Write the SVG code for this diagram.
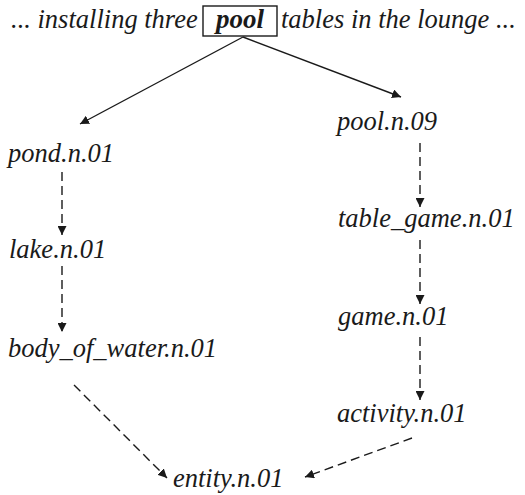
<svg xmlns="http://www.w3.org/2000/svg" width="525" height="495" viewBox="0 0 525 495">
<defs>
<marker id="ah" viewBox="0 0 10 10" refX="10" refY="5" markerWidth="9" markerHeight="9" markerUnits="userSpaceOnUse" orient="auto">
<path d="M0,0 L10,5 L0,10 Z" fill="#1a1a1a"/>
</marker>
</defs>
<g id="sentence">
<text x="11" y="28" style="font-family:'Liberation Serif',serif !important;font-style:italic !important;font-size:26.5px" fill="#1a1a1a">... installing three</text>
<rect x="203" y="6" width="74" height="30" fill="none" stroke="#1a1a1a" stroke-width="1.4"/>
<text x="240" y="28" text-anchor="middle" style="font-family:'Liberation Serif',serif !important;font-style:italic !important;font-weight:bold;font-size:27px" fill="#1a1a1a">pool</text>
<text x="281" y="28" style="font-family:'Liberation Serif',serif !important;font-style:italic !important;font-size:26.5px" fill="#1a1a1a">tables in the lounge ...</text>
</g>
<g id="pond"><text x="8" y="162" style="font-family:'Liberation Serif',serif !important;font-style:italic !important;font-size:26.5px" fill="#1a1a1a">pond.n.01</text></g>
<g id="lake"><text x="9" y="258" style="font-family:'Liberation Serif',serif !important;font-style:italic !important;font-size:26.5px" fill="#1a1a1a">lake.n.01</text></g>
<g id="body_of_water"><text x="8" y="357" style="font-family:'Liberation Serif',serif !important;font-style:italic !important;font-size:26.5px" fill="#1a1a1a">body_of_water.n.01</text></g>
<g id="pool_n_09"><text x="337" y="130" style="font-family:'Liberation Serif',serif !important;font-style:italic !important;font-size:26.5px" fill="#1a1a1a">pool.n.09</text></g>
<g id="table_game"><text x="338" y="227" style="font-family:'Liberation Serif',serif !important;font-style:italic !important;font-size:26.5px" fill="#1a1a1a">table_game.n.01</text></g>
<g id="game"><text x="338" y="325" style="font-family:'Liberation Serif',serif !important;font-style:italic !important;font-size:26.5px" fill="#1a1a1a">game.n.01</text></g>
<g id="activity"><text x="337" y="422" style="font-family:'Liberation Serif',serif !important;font-style:italic !important;font-size:26.5px" fill="#1a1a1a">activity.n.01</text></g>
<g id="entity"><text x="173" y="487" style="font-family:'Liberation Serif',serif !important;font-style:italic !important;font-size:26.5px" fill="#1a1a1a">entity.n.01</text></g>
<g id="connectors" stroke="#1a1a1a" stroke-width="1.4" fill="none">
<line x1="243" y1="37" x2="80" y2="124" marker-end="url(#ah)"/>
<line x1="243" y1="37" x2="401" y2="97" marker-end="url(#ah)"/>
<g stroke-dasharray="9 5">
<line x1="62" y1="172" x2="62" y2="235" marker-end="url(#ah)"/>
<line x1="62" y1="266" x2="62" y2="332" marker-end="url(#ah)"/>
<line x1="420" y1="143" x2="420" y2="207" marker-end="url(#ah)"/>
<line x1="420" y1="240" x2="420" y2="304" marker-end="url(#ah)"/>
<line x1="420" y1="337" x2="420" y2="400" marker-end="url(#ah)"/>
<line x1="74" y1="385" x2="167" y2="478" marker-end="url(#ah)"/>
<line x1="412" y1="438" x2="305" y2="477" marker-end="url(#ah)"/>
</g>
</g>
</svg>
